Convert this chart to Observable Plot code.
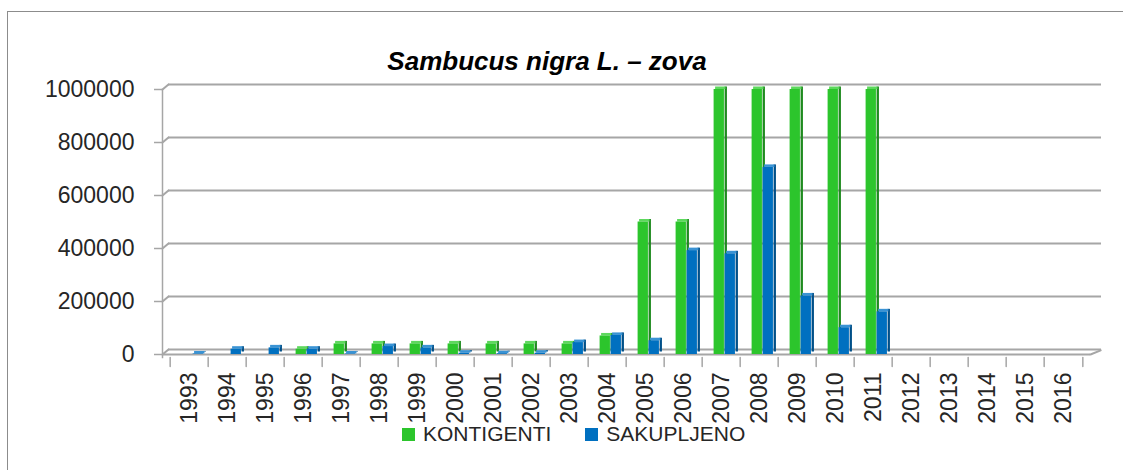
<!DOCTYPE html>
<html>
<head>
<meta charset="utf-8">
<script src="https://cdn.jsdelivr.net/npm/d3@7"></script>
<script src="https://cdn.jsdelivr.net/npm/@observablehq/plot@0.6"></script>
<style>
  html, body { margin: 0; padding: 0; background: #fff; overflow: hidden; }
  #wrap { position: relative; width: 1123px; height: 470px; overflow: hidden; font-family: "Liberation Sans", Arial, sans-serif; }
  #box { position: absolute; left: 7px; top: 11px; width: 1200px; height: 600px; border: 1px solid #8c8c8c; }
  #title { position: absolute; left: 0; top: 46px; width: 1094px; text-align: center; font: italic bold 26px "Liberation Sans", Arial, sans-serif; color: #000; }
  #chart { position: absolute; left: 0; top: 0; }
  #legend { position: absolute; left: 402px; top: 422px; display: flex; align-items: center; font-size: 21px; color: #262626; }
  .item { display: flex; align-items: center; }
  .sw { width: 13px; height: 13px; margin-right: 8px; }
</style>
</head>
<body>
<div id="wrap">
  <div id="box"></div>
  <div id="chart"></div>
  <div id="title">Sambucus nigra L. – zova</div>
  <div id="legend"></div>
</div>
<script>
const years = ["1993","1994","1995","1996","1997","1998","1999","2000","2001","2002","2003","2004","2005","2006","2007","2008","2009","2010","2011","2012","2013","2014","2015","2016"];
const kontigenti = [0,0,0,20000,40000,40000,40000,40000,40000,40000,40000,70000,500000,500000,1000000,1000000,1000000,1000000,1000000,null,null,null,null,null];
const sakupljeno = [2000,20000,25000,20000,2000,30000,25000,5000,3000,5000,45000,72000,52000,392000,380000,706000,221000,101000,161000,null,null,null,null,null];
const yTicks = [0,200000,400000,600000,800000,1000000];
const seriesNames = ["KONTIGENTI","SAKUPLJENO"];
const frontColors = ["#2CC52C","#0070C0"];
const sideColors = ["#1E8A1E","#004F88"];
const topColors = ["#5ED85E","#3A93D4"];

const rows = years.map((year, i) => ({year, k: kontigenti[i], s: sakupljeno[i]}));
const W = 1123, H = 470;
const mL = 162, mR = 33;
const bw = (W - mL - mR) / years.length;
const barW = 11, sideW = 3, off0 = 11.6;

const line = {draw(ctx, l) { ctx.moveTo(0, 0); ctx.lineTo(0, -l); }};
const gray = "#a6a6a6";

function bars(key, idx) {
  const left = off0 + idx * barW;
  const f = d => d[key] != null && d[key] > 0;
  return [
    Plot.barY(rows, {filter: f, x: "year", y: key, fill: sideColors[idx],
      insetLeft: left + barW, insetRight: bw - left - barW - sideW, dy: -2.5}),
    Plot.barY(rows, {filter: f, x: "year", y1: key, y2: key, fill: topColors[idx],
      insetLeft: left, insetRight: bw - left - barW, insetTop: -2.5, dx: 1.5}),
    Plot.barY(rows, {filter: f, x: "year", y: key, fill: frontColors[idx],
      insetLeft: left, insetRight: bw - left - barW})
  ];
}

const chart = Plot.plot({
  width: W, height: H,
  marginLeft: mL, marginRight: mR, marginTop: 89, marginBottom: H - 354,
  style: {fontFamily: "'Liberation Sans', Arial, sans-serif", fontSize: "23px", color: "#262626", background: "transparent"},
  x: {type: "band", domain: years, padding: 0, label: null},
  y: {domain: [0, 1000000], label: null},
  marks: [
    Plot.ruleY(yTicks, {stroke: gray, strokeWidth: 2, dx: 6, dy: -5, insetRight: -5}),
    Plot.vector(yTicks, {y: d => d, frameAnchor: "left", length: 7.8, rotate: 50, anchor: "start", shape: line, stroke: gray, strokeWidth: 2}),
    Plot.ruleY([0], {stroke: gray, strokeWidth: 2}),
    Plot.vector([0], {y: d => d, frameAnchor: "right", length: 11, rotate: 68, anchor: "start", shape: line, stroke: gray, strokeWidth: 2}),
    Plot.frame({anchor: "left", stroke: gray, strokeWidth: 1.5, insetBottom: -3}),
    ...bars("k", 0),
    ...bars("s", 1),
    Plot.axisY({ticks: yTicks, tickFormat: d => String(d), tickSize: 8, tickPadding: 20, stroke: gray, strokeWidth: 1.5, fill: "#262626"}),
    Plot.axisX({tickSize: 0, tickPadding: 18, tickRotate: -90, fill: "#262626"}),
    Plot.vector(years, {x: d => d, frameAnchor: "bottom", length: 9, rotate: 180, anchor: "start", dx: -bw / 2, dy: 3, shape: line, stroke: gray, strokeWidth: 1.5}),
    Plot.vector(years.slice(-1), {x: d => d, frameAnchor: "bottom", length: 9, rotate: 180, anchor: "start", dx: bw / 2, dy: 3, shape: line, stroke: gray, strokeWidth: 1.5})
  ]
});
document.getElementById("chart").appendChild(chart);

const legend = document.getElementById("legend");
seriesNames.forEach((name, i) => {
  const item = document.createElement("div");
  item.className = "item";
  item.style.marginRight = i === 0 ? "34px" : "0";
  const sw = document.createElement("div");
  sw.className = "sw";
  sw.style.background = frontColors[i];
  const t = document.createElement("span");
  t.textContent = name;
  item.appendChild(sw); item.appendChild(t);
  legend.appendChild(item);
});
</script>
</body>
</html>
